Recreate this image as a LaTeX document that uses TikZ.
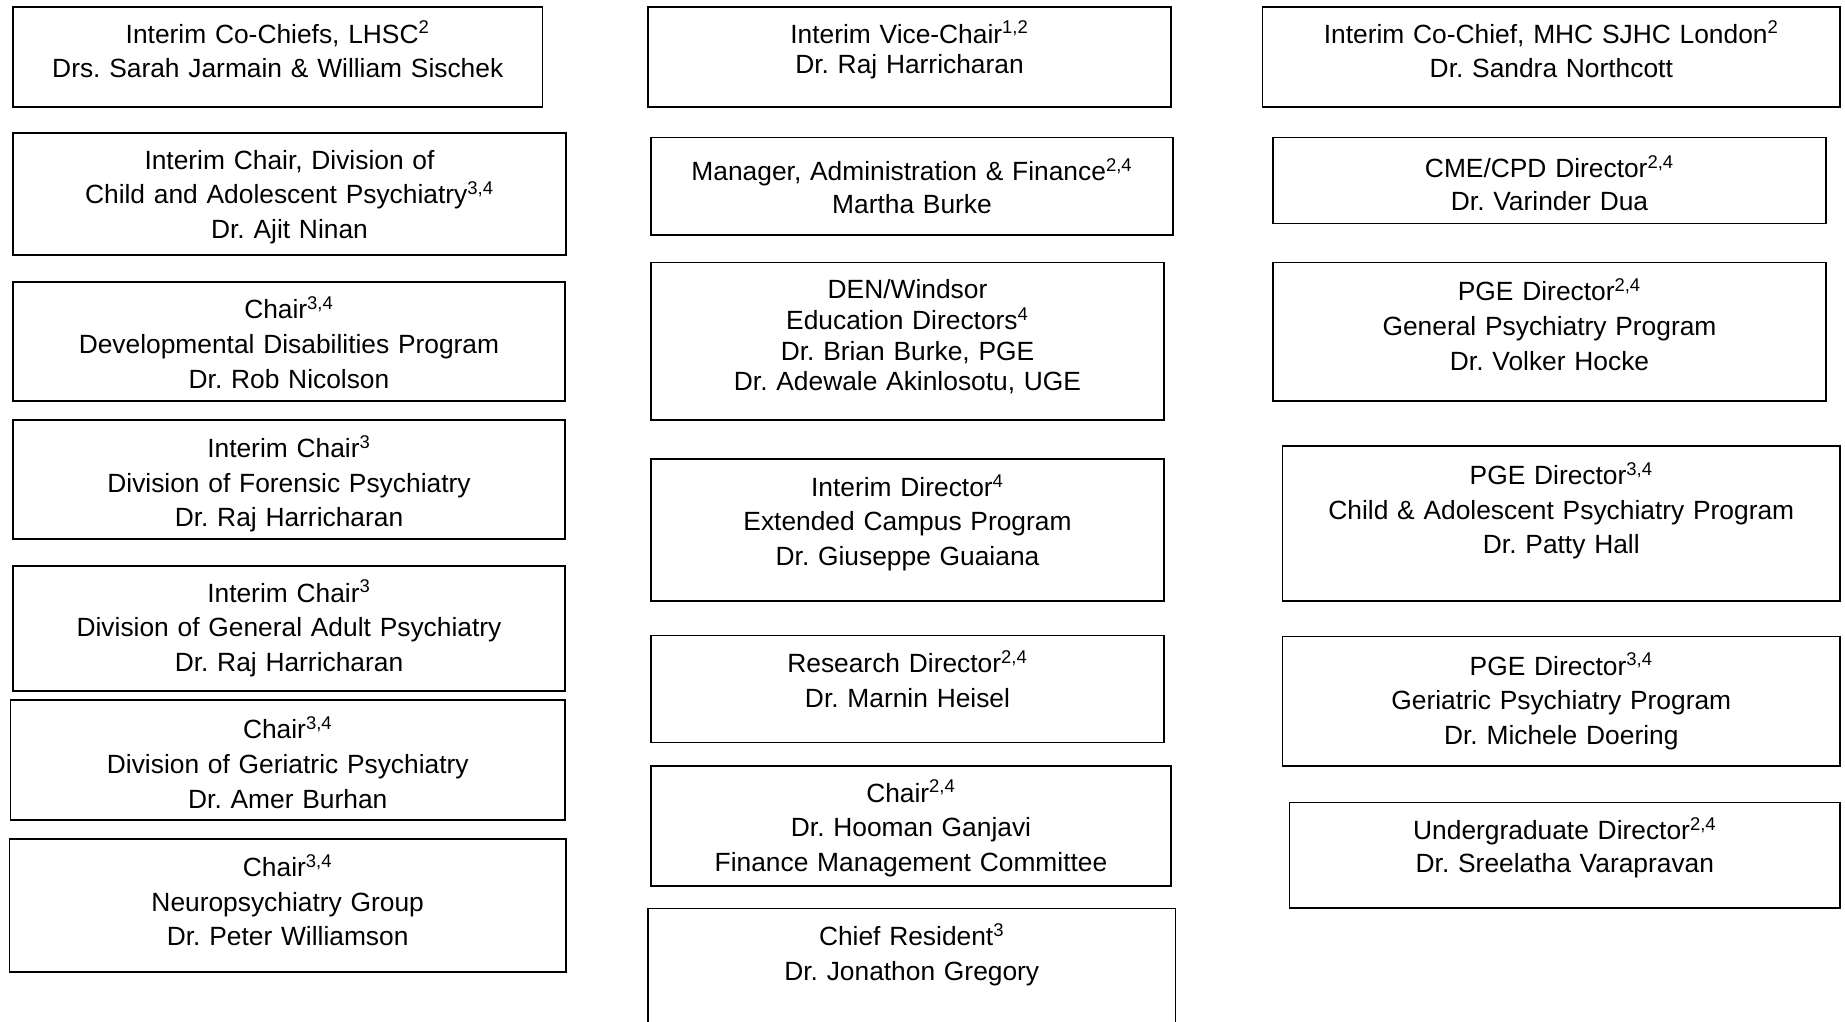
\documentclass[tikz,border=0pt]{standalone}
\usepackage{fontspec}
\setmainfont{Liberation Sans}
\frenchspacing
\usetikzlibrary{fit,calc}

\begin{document}
\begin{tikzpicture}[x=0.02cm, y=-0.02cm,
  box/.style={draw, line width=0.8pt, inner sep=0pt},
  txt/.style={anchor=base, align=center, text width=10cm, inner sep=0pt, yshift=-0.8pt,
    font=\fontsize{15}{19.8}\selectfont},
  snuglines/.style={font=\fontsize{15}{18.7}\selectfont},
  tightlines/.style={font=\fontsize{15}{17.5}\selectfont}]
  \useasboundingbox (0,0) rectangle (1845,1021);
  % Left column
  \node[box, fit={(13,7) (542.5,107)}] (lhsc) {};
  \node[txt] (lhscT) at ($(lhsc.north)+(0,35.4)$) {Interim Co-Chiefs, LHSC\textsuperscript{2}\\Drs. Sarah Jarmain \& William Sischek};
  \node[box, fit={(13,133) (566,255)}] (childdiv) {};
  \node[txt] (childdivT) at ($(childdiv.north)+(0,35.4)$) {Interim Chair, Division of\\Child and Adolescent Psychiatry\textsuperscript{3,4}\\Dr. Ajit Ninan};
  \node[box, fit={(13,282) (565,401)}] (devdis) {};
  \node[txt] (devdisT) at ($(devdis.north)+(0,36)$) {Chair\textsuperscript{3,4}\\Developmental Disabilities Program\\Dr. Rob Nicolson};
  \node[box, fit={(13,420) (565,539)}] (forensic) {};
  \node[txt] (forensicT) at ($(forensic.north)+(0,36.6)$) {Interim Chair\textsuperscript{3}\\Division of Forensic Psychiatry\\Dr. Raj Harricharan};
  \node[box, fit={(13,566) (565,691)}] (genadult) {};
  \node[txt] (genadultT) at ($(genadult.north)+(0,35.4)$) {Interim Chair\textsuperscript{3}\\Division of General Adult Psychiatry\\Dr. Raj Harricharan};
  \node[box, fit={(10.6,700) (565,820)}] (geri) {};
  \node[txt] (geriT) at ($(geri.north)+(0,37.9)$) {Chair\textsuperscript{3,4}\\Division of Geriatric Psychiatry\\Dr. Amer Burhan};
  \node[box, fit={(9.4,839) (566,972)}] (neuro) {};
  \node[txt] (neuroT) at ($(neuro.north)+(0,36.5)$) {Chair\textsuperscript{3,4}\\Neuropsychiatry Group\\Dr. Peter Williamson};
  % Middle column
  \node[box, fit={(648,7) (1171,107)}] (vice) {};
  \node[txt, tightlines] (viceT) at ($(vice.north)+(0,35.4)$) {Interim Vice-Chair\textsuperscript{1,2}\\Dr. Raj Harricharan};
  \node[box, fit={(651,137.7) (1173,235)}] (admin) {};
  \node[txt, snuglines] (adminT) at ($(admin.north)+(0,42.4)$) {Manager, Administration \& Finance\textsuperscript{2,4}\\Martha Burke};
  \node[box, fit={(651,262.4) (1164,420)}] (windsor) {};
  \node[txt, tightlines] (windsorT) at ($(windsor.north)+(0,35.4)$) {DEN/Windsor\\Education Directors\textsuperscript{4}\\Dr. Brian Burke, PGE\\Dr. Adewale Akinlosotu, UGE};
  \node[box, fit={(651,459) (1164,601)}] (campus) {};
  \node[txt] (campusT) at ($(campus.north)+(0,36.5)$) {Interim Director\textsuperscript{4}\\Extended Campus Program\\Dr. Giuseppe Guaiana};
  \node[box, fit={(651,635.4) (1164,742.5)}] (research) {};
  \node[txt] (researchT) at ($(research.north)+(0,36.6)$) {Research Director\textsuperscript{2,4}\\Dr. Marnin Heisel};
  \node[box, fit={(651,766) (1171,886)}] (finance) {};
  \node[txt] (financeT) at ($(finance.north)+(0,35.4)$) {Chair\textsuperscript{2,4}\\Dr. Hooman Ganjavi\\Finance Management Committee};
  \node[box, fit={(648,908.4) (1175.5,1030)}] (resident) {};
  \node[txt] (residentT) at ($(resident.north)+(0,36.6)$) {Chief Resident\textsuperscript{3}\\Dr. Jonathon Gregory};
  % Right column
  \node[box, fit={(1262.6,7) (1840,107)}] (sjhc) {};
  \node[txt] (sjhcT) at ($(sjhc.north)+(0,35.4)$) {Interim Co-Chief, MHC SJHC London\textsuperscript{2}\\Dr. Sandra Northcott};
  \node[box, fit={(1273,137.7) (1826,223.6)}] (cpd) {};
  \node[txt, snuglines] (cpdT) at ($(cpd.north)+(0,38.9)$) {CME/CPD Director\textsuperscript{2,4}\\Dr. Varinder Dua};
  \node[box, fit={(1273,262.4) (1826,401)}] (pgegen) {};
  \node[txt] (pgegenT) at ($(pgegen.north)+(0,37.7)$) {PGE Director\textsuperscript{2,4}\\General Psychiatry Program\\Dr. Volker Hocke};
  \node[box, fit={(1282.6,446) (1840,601)}] (pgechild) {};
  \node[txt] (pgechildT) at ($(pgechild.north)+(0,37.7)$) {PGE Director\textsuperscript{3,4}\\Child \& Adolescent Psychiatry Program\\Dr. Patty Hall};
  \node[box, fit={(1282.6,636.6) (1840,766)}] (pgegeri) {};
  \node[txt] (pgegeriT) at ($(pgegeri.north)+(0,37.7)$) {PGE Director\textsuperscript{3,4}\\Geriatric Psychiatry Program\\Dr. Michele Doering};
  \node[box, fit={(1289.7,802.5) (1840,908)}] (ugrad) {};
  \node[txt, snuglines] (ugradT) at ($(ugrad.north)+(0,36.5)$) {Undergraduate Director\textsuperscript{2,4}\\Dr. Sreelatha Varapravan};
\end{tikzpicture}
\end{document}
